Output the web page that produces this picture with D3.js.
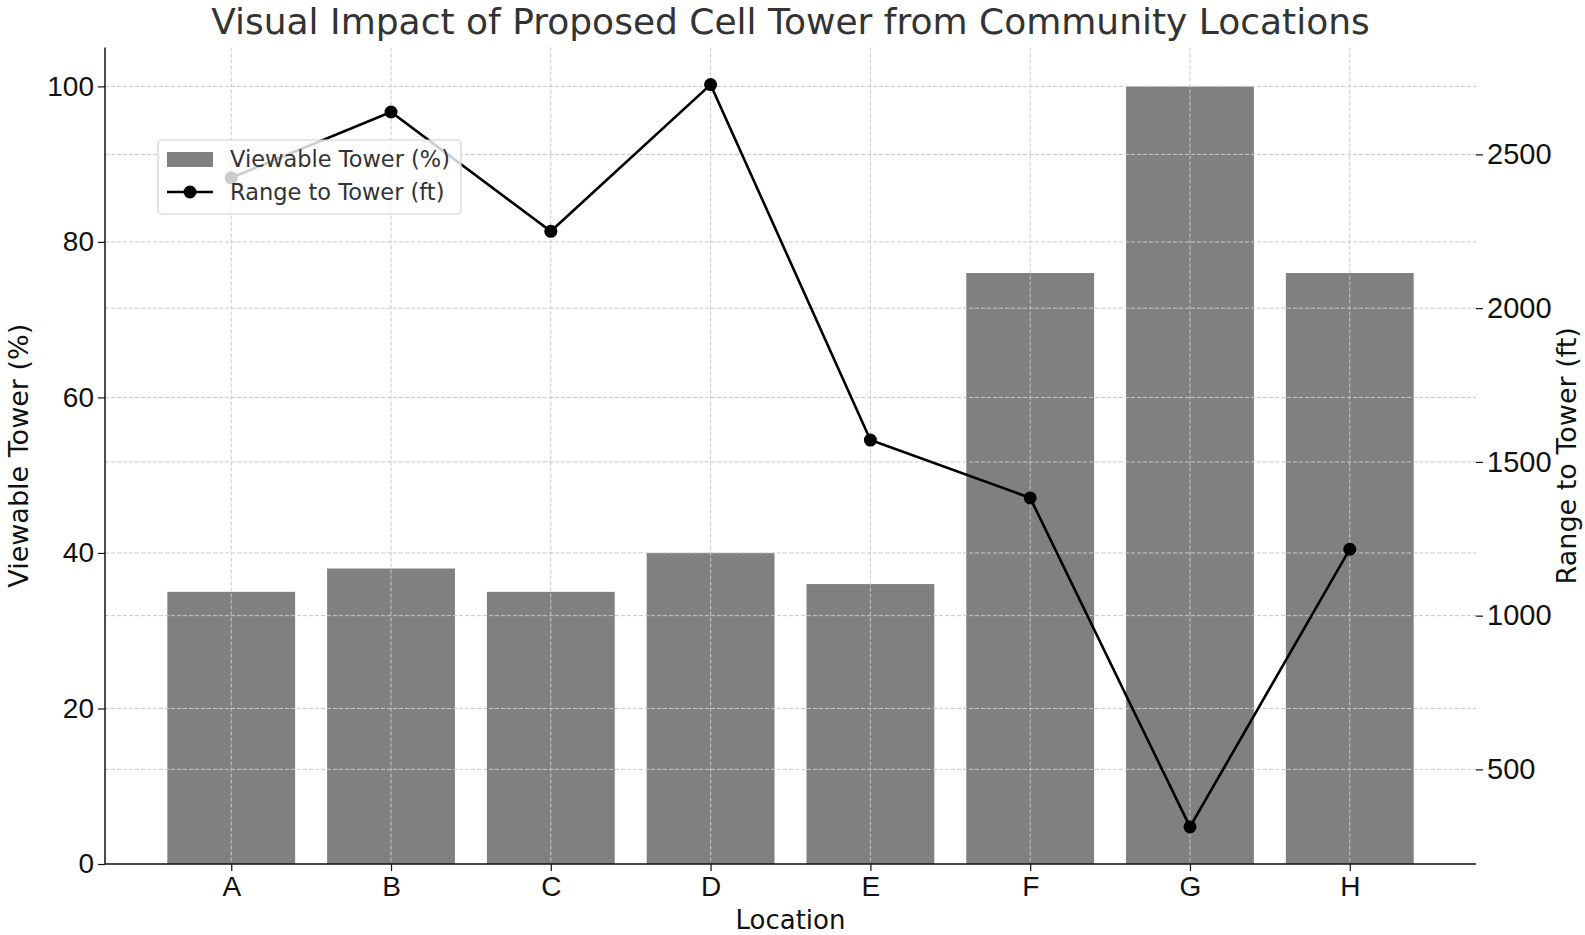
<!DOCTYPE html>
<html>

<head>
    <meta charset="utf-8">
    <style>
        body {
            margin: 0;
            background: #fff;
        }

        svg {
            font-family: 'DejaVu Sans', sans-serif;
        }

        .grid line {
            stroke: #c8c8c8;
            stroke-width: 1;
            stroke-dasharray: 4, 2;
        }

        .axis .domain {
            display: none;
        }

        .axis .tick text {
            font-size: 28px;
            fill: #111;
        }

        .y2.axis .tick text {
            font-size: 29px;
        }

        .axis .tick line {
            stroke: #111;
            stroke-width: 1.2;
        }
    </style>
</head>

<body>
    <svg width="1585" height="935"></svg>
</body>

<script src="https://d3js.org/d3.v7.min.js"></script>
<script>
    // data
    const locations = ["A", "B", "C", "D", "E", "F", "G", "H"];
    const viewable = [35, 38, 35, 40, 36, 76, 100, 76];          // Viewable Tower (%)
    const range = [2424, 2638, 2250, 2727, 1571, 1383, 313, 1216]; // Range to Tower (ft)
    const leftTicks = [0, 20, 40, 60, 80, 100];
    const rightTicks = [500, 1000, 1500, 2000, 2500];

    let width = 1585;
    let height = 935;
    let margin = { top: 47.5, right: 109, bottom: 71, left: 105 };
    let svg = d3.select("svg");

    let plotL = margin.left, plotR = width - margin.right;
    let plotT = margin.top, plotB = height - margin.bottom;

    // bars are 0.8 wide, matplotlib-style 5% margins on x
    let x = d3.scaleLinear()
        .domain([-0.79, locations.length - 1 + 0.79])
        .range([plotL, plotR]);

    let y = d3.scaleLinear()
        .domain([0, 105])
        .range([plotB, plotT]);

    let rMin = d3.min(range), rMax = d3.max(range);
    let pad = (rMax - rMin) * 0.05;
    let y2 = d3.scaleLinear()
        .domain([rMin - pad, rMax + pad])
        .range([plotB, plotT]);

    // bars
    svg.append("g")
        .attr("class", "bars")
        .selectAll("rect")
        .data(viewable)
        .join("rect")
        .attr("x", (d, i) => x(i - 0.4))
        .attr("width", x(0.8) - x(0))
        .attr("y", d => y(d))
        .attr("height", d => y(0) - y(d))
        .style("fill", "#808080");

    // grid lines (drawn over the bars, like matplotlib)
    let grid = svg.append("g").attr("class", "grid");
    grid.selectAll(".vx")
        .data(locations)
        .join("line")
        .attr("x1", (d, i) => x(i)).attr("x2", (d, i) => x(i))
        .attr("y1", plotT).attr("y2", plotB);
    grid.selectAll(".hy")
        .data(leftTicks.slice(1))
        .join("line")
        .attr("class", "hy")
        .attr("x1", plotL).attr("x2", plotR)
        .attr("y1", d => y(d)).attr("y2", d => y(d));
    grid.selectAll(".hy2")
        .data(rightTicks)
        .join("line")
        .attr("class", "hy2")
        .attr("x1", plotL).attr("x2", plotR)
        .attr("y1", d => y2(d)).attr("y2", d => y2(d));

    // axes
    svg.append("g")
        .attr("class", "x axis")
        .attr("transform", `translate(0,${plotB})`)
        .call(d3.axisBottom(x)
            .tickValues(d3.range(locations.length))
            .tickFormat(i => locations[i])
            .tickSize(7)
            .tickPadding(5));

    svg.append("g")
        .attr("class", "y axis")
        .attr("transform", `translate(${plotL},0)`)
        .call(d3.axisLeft(y)
            .tickValues(leftTicks)
            .tickSize(7)
            .tickPadding(4));

    svg.append("g")
        .attr("class", "y2 axis")
        .attr("transform", `translate(${plotR},0)`)
        .call(d3.axisRight(y2)
            .tickValues(rightTicks)
            .tickFormat(d3.format("d"))
            .tickSize(7)
            .tickPadding(4));

    // spines: left and bottom only
    svg.append("line")
        .attr("x1", plotL).attr("x2", plotL)
        .attr("y1", plotT).attr("y2", plotB)
        .style("stroke", "#111").style("stroke-width", 1.5);
    svg.append("line")
        .attr("x1", plotL).attr("x2", plotR)
        .attr("y1", plotB).attr("y2", plotB)
        .style("stroke", "#111").style("stroke-width", 1.5);

    // range line
    let line = d3.line()
        .x((d, i) => x(i))
        .y(d => y2(d));

    svg.append("path")
        .datum(range)
        .attr("d", line)
        .style("fill", "none")
        .style("stroke", "#000")
        .style("stroke-width", 2.6);

    svg.append("g")
        .selectAll("circle")
        .data(range)
        .join("circle")
        .attr("cx", (d, i) => x(i))
        .attr("cy", d => y2(d))
        .attr("r", 6.5)
        .style("fill", "#000");

    // legend
    let legend = svg.append("g").attr("class", "legend");
    legend.append("rect")
        .attr("x", 158).attr("y", 140)
        .attr("width", 303).attr("height", 74)
        .attr("rx", 4)
        .style("fill", "#fff").style("fill-opacity", 0.8)
        .style("stroke", "#d0d0d0").style("stroke-width", 1.2);
    legend.append("rect")
        .attr("x", 167).attr("y", 152)
        .attr("width", 46).attr("height", 15)
        .style("fill", "#808080");
    legend.append("line")
        .attr("x1", 167).attr("x2", 213)
        .attr("y1", 192).attr("y2", 192)
        .style("stroke", "#000").style("stroke-width", 2.6);
    legend.append("circle")
        .attr("cx", 190).attr("cy", 192).attr("r", 6.5)
        .style("fill", "#000");
    legend.selectAll("text")
        .data(["Viewable Tower (%)", "Range to Tower (ft)"])
        .join("text")
        .attr("x", 230)
        .attr("y", (d, i) => 167 + i * 33)
        .style("font-size", "22.5px")
        .style("fill", "#333")
        .text(d => d);

    // title and axis labels
    svg.append("text")
        .attr("x", (plotL + plotR) / 2)
        .attr("y", 34)
        .attr("text-anchor", "middle")
        .style("font-size", "36px")
        .style("fill", "#333")
        .text("Visual Impact of Proposed Cell Tower from Community Locations");

    svg.append("text")
        .attr("x", (plotL + plotR) / 2)
        .attr("y", 929)
        .attr("text-anchor", "middle")
        .style("font-size", "26px")
        .style("fill", "#111")
        .text("Location");

    svg.append("text")
        .attr("transform", `translate(28,${(plotT + plotB) / 2}) rotate(-90)`)
        .attr("text-anchor", "middle")
        .style("font-size", "27px")
        .style("fill", "#111")
        .text("Viewable Tower (%)");

    svg.append("text")
        .attr("transform", `translate(1576,${(plotT + plotB) / 2}) rotate(-90)`)
        .attr("text-anchor", "middle")
        .style("font-size", "27px")
        .style("fill", "#111")
        .text("Range to Tower (ft)");
</script>

</html>
